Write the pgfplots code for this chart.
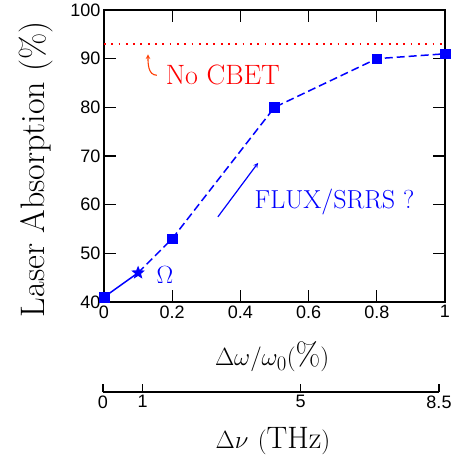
\documentclass[border=0pt]{standalone}
\usepackage{pgfplots}
\pgfplotsset{compat=1.18}
\usetikzlibrary{shapes.geometric}
\usepackage{fontspec}
\newfontfamily\ticksf{Liberation Sans}
\definecolor{arrred}{RGB}{255,60,0}
\pgfdeclareplotmark{fstar}{\node[star, star points=5, star point ratio=2.3, fill, draw=none, inner sep=0pt, minimum size=2.2\pgfplotmarksize] {};}
\begin{document}
\begin{tikzpicture}
\useasboundingbox (-104pt,-156pt) rectangle (353pt,302pt);
\begin{axis}[
  scale only axis, width=341pt, height=292pt,
  at={(0pt,0pt)}, anchor=south west,
  xmin=0, xmax=1, ymin=40, ymax=100,
  xtick={0,0.2,0.4,0.6,0.8,1},
  xticklabels={0,0.2,0.4,0.6,0.8,1},
  ytick={40,50,60,70,80,90,100},
  tick align=inside, major tick length=12pt,
  tick style={line width=1.2pt, black},
  axis line style={line width=1.2pt},
  /pgf/number format/assume math mode=true,
  tick label style={font=\ticksf\fontsize{18}{18}\selectfont},
  xlabel={$\Delta\omega/\omega_0(\%)$},
  ylabel={Laser Absorption (\%)},
  every axis x label/.style={at={(axis description cs:0.493,-0.188)}, anchor=center, font=\fontsize{32}{32}\selectfont},
  every axis y label/.style={at={(axis description cs:-0.198,0.455)}, anchor=center, rotate=90, font=\fontsize{34}{34}\selectfont},
]
\addplot[draw=red, line width=1.8pt, dash pattern=on 1.8pt off 5.5pt] coordinates {(0,93) (1,93)};
\addplot[blue, line width=1.5pt] coordinates {(0,41) (0.1,46)};
\addplot[blue, line width=1.5pt, dash pattern=on 8pt off 4pt] coordinates {(0.1,46) (0.2,53) (0.5,80) (0.8,90) (1,91)};
\addplot[blue, only marks, mark=square*, mark size=4.8pt] coordinates {(0,41) (0.2,53) (0.5,80) (0.8,90) (1,91)};
\addplot[blue, only marks, mark=fstar, mark size=6.5pt] coordinates {(0.1,46)};
\draw[->, arrred, line width=1.1pt, >=stealth] (axis cs:0.155,86.6) to[out=180,in=-90] (axis cs:0.129,90.9);
\node[red, anchor=west, font=\fontsize{28}{28}\selectfont] at (axis cs:0.171,86.6) {No CBET};
\draw[->, blue, line width=1.2pt, >=stealth] (axis cs:0.334,57.5) -- (axis cs:0.452,68.6);
\node[blue, font=\fontsize{26}{26}\selectfont] at (axis cs:0.676,60.6) {FLUX/SRRS ?};
\node[blue, font=\fontsize{26}{26}\selectfont] at (axis cs:0.179,45.5) {$\Omega$};
\end{axis}
\begin{axis}[
  scale only axis, width=336pt, height=10pt,
  at={(-1pt,-90pt)}, anchor=south west,
  xmin=0, xmax=8.5, ymin=0, ymax=1,
  axis x line*=bottom, axis y line=none,
  xtick={0,1,5,8.5}, xticklabels={0,1,5,8.5},
  tick align=inside, major tick length=8pt,
  tick style={line width=1.2pt, black},
  axis line style={line width=1.2pt},
  /pgf/number format/assume math mode=true,
  tick label style={font=\ticksf\fontsize{18}{18}\selectfont},
  xlabel={$\Delta\nu\ (\mathrm{THz})$},
  every axis x label/.style={at={(axis description cs:0.506,-4.9)}, anchor=center, font=\fontsize{31}{31}\selectfont},
]
\end{axis}
\end{tikzpicture}
\end{document}
